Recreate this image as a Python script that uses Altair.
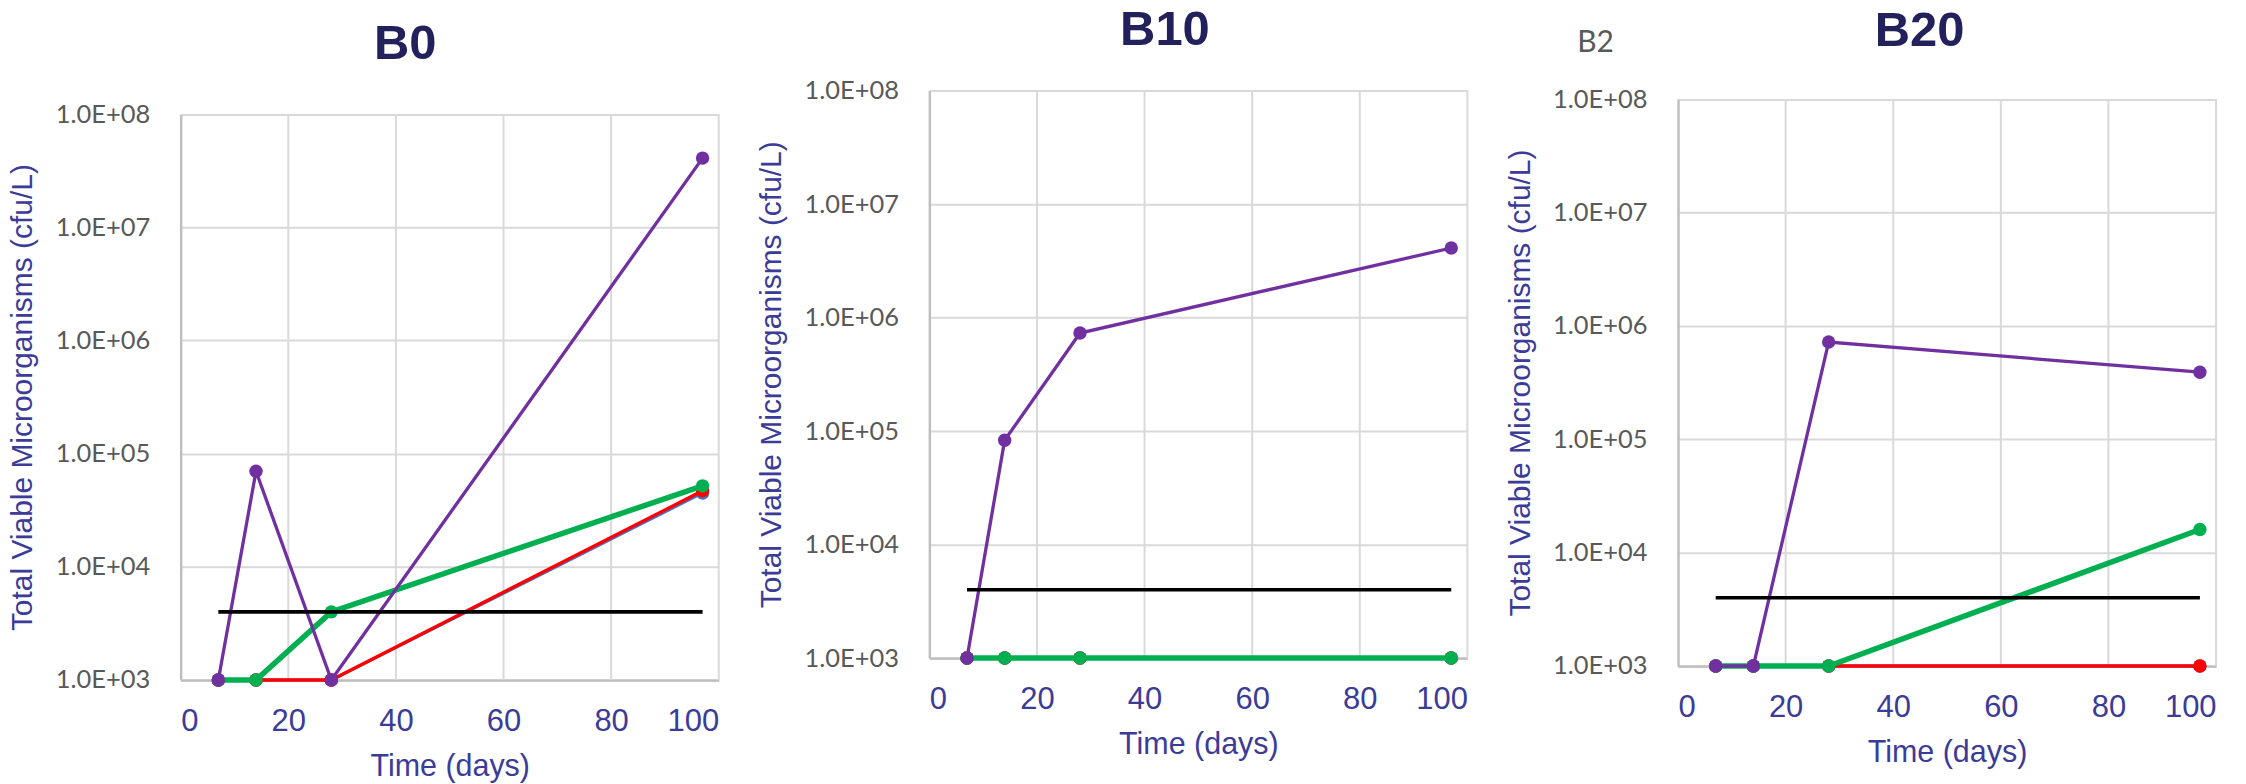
import altair as alt
import pandas as pd

# ---------------- data ----------------
days = [7, 14, 28, 97]
threshold_days = [7, 97]
threshold_value = [4000, 4000]

b0_blue = [1e3, 1e3, 1e3, 4.5e4]
b0_red = [1e3, 1e3, 1e3, 4.7e4]
b0_green = [1e3, 1e3, 4.0e3, 5.2e4]
b0_purple = [1e3, 7.0e4, 1e3, 4.1e7]

b10_blue = [1e3, 1e3, 1e3, 1e3]
b10_red = [1e3, 1e3, 1e3, 1e3]
b10_green = [1e3, 1e3, 1e3, 1e3]
b10_purple = [1e3, 8.3e4, 7.3e5, 4.1e6]

b20_blue = [1e3, 1e3, 1e3, 1e3]
b20_red = [1e3, 1e3, 1e3, 1e3]
b20_green = [1e3, 1e3, 1e3, 1.6e4]
b20_purple = [1e3, 1e3, 7.2e5, 3.9e5]

panel_titles = ["B0", "B10", "B20"]
fragment_text = "B2"
x_ticks = [0, 20, 40, 60, 80, 100]
y_ticks = [1e3, 1e4, 1e5, 1e6, 1e7, 1e8]
y_min, y_max = 1e3, 1e8

series_order = ["blue", "red", "green", "purple"]
series_color = {"blue": "#4472C4", "red": "#FF0000", "green": "#00B050", "purple": "#7030A0"}
series_width = {"blue": 3, "red": 3.3, "green": 5.5, "purple": 3.3}

panel_series = [
    {"blue": b0_blue, "red": b0_red, "green": b0_green, "purple": b0_purple},
    {"blue": b10_blue, "red": b10_red, "green": b10_green, "purple": b10_purple},
    {"blue": b20_blue, "red": b20_red, "green": b20_green, "purple": b20_purple},
]

# layout (pixels, relative to a common view origin)
ORIGIN = 89.5
layout = [
    dict(w=539, bottom=590.5, top=23.8, tx=225, ty=-31.2),
    dict(w=539, bottom=568.5, top=0.0, tx=236, ty=-45.5),
    dict(w=539, bottom=576.5, top=8.5, tx=242, ty=-44.5),
]

TITLE_COLOR = "#22215B"
AXIS_TEXT = "#3B3B98"
TICK_GRAY = "#595959"


def make_panel(i):
    lay = layout[i]
    W = lay["w"]
    rows = []
    for s in series_order:
        for d, v in zip(days, panel_series[i][s]):
            rows.append({"day": d, "value": v, "series": s})
    df = pd.DataFrame(rows)
    thr = pd.DataFrame({"day": threshold_days, "value": threshold_value})
    grid = pd.DataFrame({
        "day": x_ticks[1:],
        "value": [y_max] * (len(x_ticks) - 1),
        "value2": [y_min] * (len(x_ticks) - 1),
    })

    x = alt.X(
        "day:Q",
        scale=alt.Scale(domain=[0, 100], nice=False),
        axis=alt.Axis(
            values=x_ticks, grid=False,
            domainColor="#BFBFBF", domainWidth=2.5, ticks=False, tickSize=0,
            labelFont="Liberation Sans", labelFontSize=31, labelColor=AXIS_TEXT,
            labelBaseline="alphabetic", labelPadding=51,
            title="Time (days)", titleFont="Liberation Sans",
            titleFontSize=30.5, titleFontWeight="normal", titleColor=AXIS_TEXT,
            titleY=96, titleBaseline="alphabetic",
        ),
    )
    y = alt.Y(
        "value:Q",
        scale=alt.Scale(type="log", domain=[y_min, y_max], nice=False,
                        range=[lay["bottom"], lay["top"]]),
        axis=alt.Axis(
            values=y_ticks, grid=True, gridColor="#D9D9D9", gridWidth=2,
            domainColor="#BFBFBF", domainWidth=2.5, ticks=False, tickSize=0,
            labelExpr="'1.0E+0' + round(log(datum.value) / LN10)",
            labelFont="Lato", labelFontSize=25.5, labelColor=TICK_GRAY,
            labelPadding=31,
            title="Total Viable Microorganisms (cfu/L)", titleFont="Liberation Sans",
            titleFontSize=30, titleFontWeight="normal", titleColor=AXIS_TEXT,
            titleX=-149, titleBaseline="alphabetic",
        ),
    )

    one = pd.DataFrame({"k": [0]})
    marker = alt.Chart(one).mark_rule(stroke="white", strokeOpacity=0, strokeWidth=1).encode(
        x=alt.value(-180), x2=alt.value(W + 29), y=alt.value(-ORIGIN)
    )
    title = alt.Chart(one).mark_text(
        text=panel_titles[i], font="Liberation Sans", fontSize=49, fontWeight="bold",
        color=TITLE_COLOR, align="center", baseline="alphabetic",
    ).encode(x=alt.value(lay["tx"]), y=alt.value(lay["ty"]))

    vgrid = alt.Chart(grid).mark_rule(color="#D9D9D9", strokeWidth=2).encode(
        x=x, y=y, y2="value2:Q"
    )

    layers = [marker, title, vgrid]
    base = alt.Chart(df)
    for s in series_order:
        sub = base.transform_filter(alt.datum.series == s)
        layers.append(
            sub.mark_line(color=series_color[s], strokeWidth=series_width[s]).encode(x=x, y=y)
        )
        layers.append(
            sub.mark_circle(color=series_color[s], size=180, opacity=1).encode(x=x, y=y)
        )
    layers.append(
        alt.Chart(thr).mark_line(color="#000000", strokeWidth=3.6).encode(x=x, y=y)
    )
    if i == 2:
        frag = alt.Chart(one).mark_text(
            text=fragment_text, font="Lato", fontSize=30, color=TICK_GRAY, align="left",
            baseline="alphabetic",
        ).encode(x=alt.value(-101), y=alt.value(-38.5))
        layers.append(frag)

    return alt.layer(*layers).properties(width=W, height=lay["bottom"])


chart = alt.hconcat(make_panel(0), make_panel(1), make_panel(2), spacing=0).properties(
    padding=0, background="white"
).configure_view(stroke="transparent")

chart.save("out.html", embed_options={"renderer": "svg", "actions": False})
